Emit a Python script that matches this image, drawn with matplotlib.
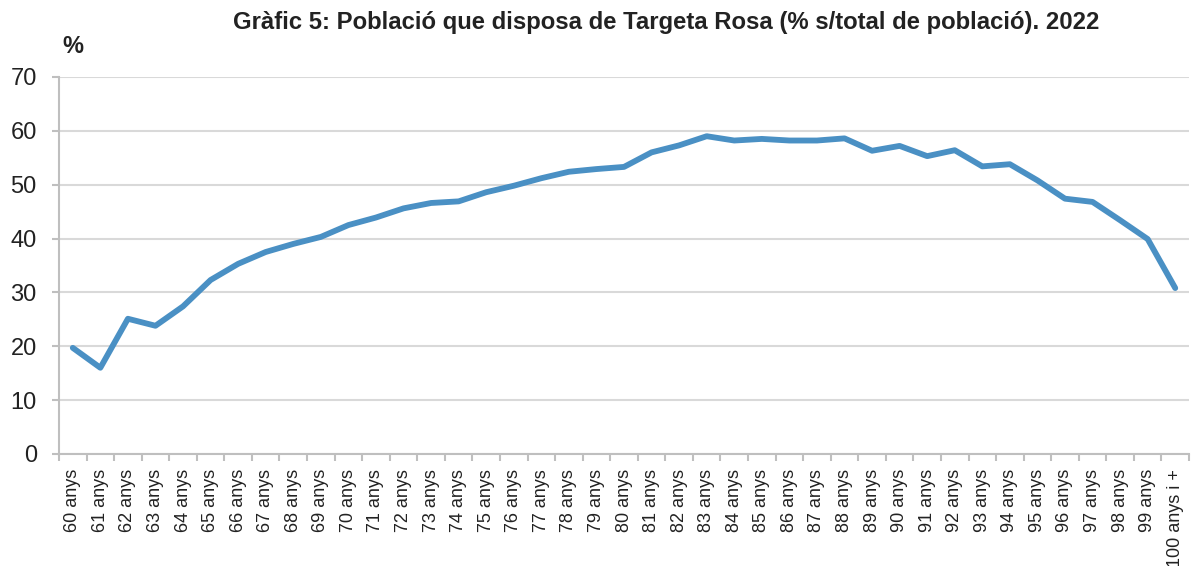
import matplotlib as mpl
mpl.use('Agg')
import matplotlib.pyplot as plt
from matplotlib.ticker import FixedLocator

plt.rcParams['font.family'] = ['Liberation Sans', 'DejaVu Sans']

# dades llegides del gràfic
edats = [f'{e} anys' for e in range(60, 100)] + ['100 anys i +']
percent = [19.7, 16.0, 25.1, 23.8, 27.4, 32.3, 35.3, 37.5, 39.0, 40.3,
           42.5, 43.9, 45.6, 46.6, 46.9, 48.6, 49.8, 51.2, 52.4, 52.9,
           53.3, 56.0, 57.3, 59.0, 58.2, 58.5, 58.2, 58.2, 58.6, 56.3,
           57.2, 55.3, 56.4, 53.4, 53.8, 50.8, 47.4, 46.8, 43.4, 39.9,
           30.8]
yticks = [0, 10, 20, 30, 40, 50, 60, 70]

fig = plt.figure(figsize=(11.92, 5.66), dpi=100)
ax = fig.add_axes([0.0495, 0.198, 0.948, 0.666])

x = list(range(len(edats)))
ax.plot(x, percent, color='#4a90c4', lw=4.2, solid_capstyle='round',
        solid_joinstyle='round', zorder=3)

ax.set_xlim(-0.5, len(edats) - 0.5)
ax.set_ylim(0, 70)
ax.set_yticks(yticks)
ax.yaxis.grid(True, color='#d9d9d9', lw=1.5)
ax.set_axisbelow(True)

ax.set_xticks(x)
ax.set_xticklabels(edats, rotation=90, fontsize=13, color='#222222')
ax.xaxis.set_minor_locator(FixedLocator([i - 0.5 for i in range(len(edats) + 1)]))
ax.tick_params(axis='x', which='major', length=0, pad=11)
ax.tick_params(axis='x', which='minor', length=5, color='#bfbfbf', width=1.5)
ax.tick_params(axis='y', length=5, color='#bfbfbf', width=1.5, labelsize=17,
               labelcolor='#222222', pad=11)

for s in ['top', 'right']:
    ax.spines[s].set_visible(False)
for s in ['left', 'bottom']:
    ax.spines[s].set_color('#bfbfbf')
    ax.spines[s].set_linewidth(1.5)

fig.text(0.559, 0.961, 'Gràfic 5: Població que disposa de Targeta Rosa (% s/total de població). 2022',
         ha='center', va='center', fontsize=17.2, fontweight='bold', color='#222222')
fig.text(0.052, 0.918, '%', ha='left', va='center', fontsize=17,
         fontweight='bold', color='#222222')

plt.savefig('out.png', dpi=100)
